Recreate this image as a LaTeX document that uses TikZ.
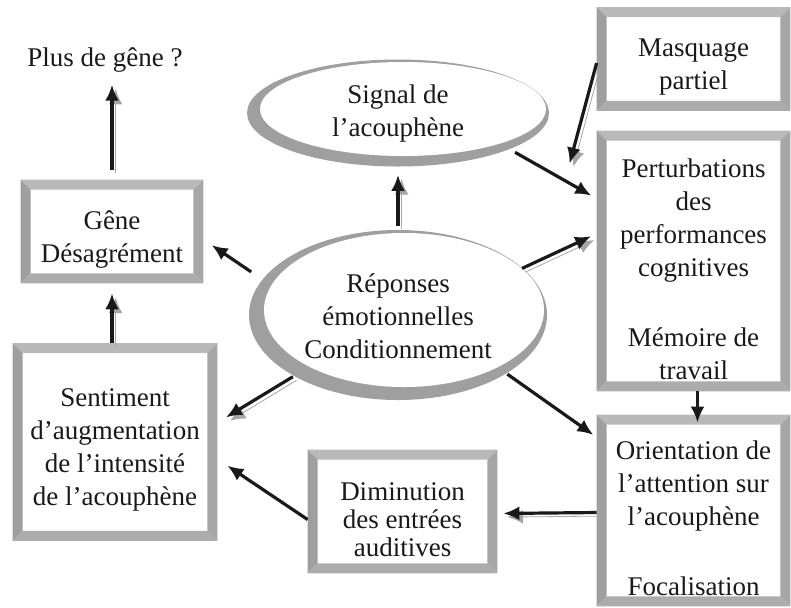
\documentclass[tikz,border=0pt]{standalone}
\usepackage{fontspec}
\setmainfont{Liberation Serif}
\usetikzlibrary{shapes.geometric,arrows.meta,backgrounds}

\begin{document}
\begin{tikzpicture}[x=0.5pt,y=-0.5pt,
    txt/.style={align=center, text=black!90, font=\fontsize{13.5}{16.5}\selectfont, inner sep=0pt},
    bevelbox/.style={txt, rectangle},
    oval/.style={txt, ellipse},
    tip/.style={-{Latex[length=8pt,width=7pt]}, line width=1.6pt, black!90},
    plainarrow/.style={tip},
    shadowarrow/.style={tip, preaction={draw=gray!70, transform canvas={shift={(1.8pt,-1.8pt)}}}}]

            \useasboundingbox (0,0) rectangle (791,607);

            \fill[gray!75] (398,113) ellipse (151 and 53.5);
            \fill[white] (403,109) ellipse (143 and 47);
            \fill[gray!75] (398,315) ellipse (149 and 85);
            \fill[white] (404,310) ellipse (140 and 77);

            \node[oval, minimum width=151pt, minimum height=53.5pt] (sig) at (398,113) {Signal de\\l’acouphène};
            \node[oval, minimum width=149pt, minimum height=85pt] (resp) at (398,316) {Réponses\\émotionnelles\\Conditionnement};

            \node[txt] (plus) at (105,60) {Plus de gêne ?};
            \node[bevelbox, minimum width=91pt, minimum height=51.5pt] (gene) at (112,239.5) {Gêne\\Désagrément};
            \node[bevelbox, minimum width=102pt, minimum height=98.5pt] (sent) at (115,450) {Sentiment\\d’augmentation\\de l’intensité\\de l’acouphène};
            \node[bevelbox, minimum width=96.5pt, minimum height=51.5pt] (masq) at (693.5,67) {Masquage\\partiel};
            \node[bevelbox, minimum width=96.5pt, minimum height=130pt] (pert) at (693.5,269) {Perturbations\\des\\performances\\cognitives\\[18.5pt]Mémoire de\\travail};
            \node[bevelbox, minimum width=96.5pt, minimum height=95.5pt] (orient) at (693.5,518.5) {Orientation de\\l’attention sur\\l’acouphène\\[18.5pt]Focalisation};
            \node[bevelbox, minimum width=94.5pt, minimum height=61.5pt, font=\fontsize{13.5}{14}\selectfont] (dimin) at (402.5,519.5) {Diminution\\des entrées\\auditives};

            \begin{scope}[on background layer]
            \foreach \b in {gene,sent,masq,pert,orient,dimin}{
                \coordinate (nw) at ([yshift=4pt]\b.north west);
                \coordinate (ne) at ([yshift=4pt]\b.north east);
                \coordinate (se) at ([yshift=4pt]\b.south east);
                \coordinate (sw) at ([yshift=4pt]\b.south west);
                \fill[gray!55] (nw) -- (ne) -- ([shift={(-10,10)}]ne) -- ([shift={(10,10)}]nw) -- cycle;
                \fill[gray!75] (nw) -- (sw) -- ([shift={(10,-10)}]sw) -- ([shift={(10,10)}]nw) -- cycle;
                \fill[gray!70] (ne) -- (se) -- ([shift={(-10,-10)}]se) -- ([shift={(-10,10)}]ne) -- cycle;
                \fill[gray!65] (sw) -- (se) -- ([shift={(-10,-10)}]se) -- ([shift={(10,-10)}]sw) -- cycle;
            }
            \end{scope}

            \draw[shadowarrow, shorten <=9pt, shorten >=6pt] (gene.north) -- (gene.north |- plus.south);
            \draw[shadowarrow, shorten <=4pt, shorten >=1pt] (gene.south |- sent.north) -- (gene.south);
            \draw[plainarrow, shorten <=7pt, shorten >=5pt] (resp.165) -- (gene.east);
            \draw[shadowarrow, shorten >=5pt] (resp.210) -- (sent.15);
            \draw[plainarrow, shorten >=6pt] (dimin.west) -- (sent.-5);

            \draw[shadowarrow, shorten <=2.5pt, shorten >=4pt] (resp.north) -- (sig.south);
            \draw[plainarrow, shorten <=3pt, shorten >=3pt] (sig.-18) -- (pert.144);
            \draw[shadowarrow, shorten >=3pt] (resp.21) -- (pert.160);
            \draw[plainarrow, shorten >=2pt] (resp.-28) -- (orient.140);

            \coordinate (masqtip) at ([shift={(-27,25)}]pert.north west);
            \draw[shadowarrow] ([yshift=2pt]masq.west) -- (masqtip);
            \draw[plainarrow, shorten <=-4pt] ([xshift=2pt]pert.south) -- ([xshift=2pt]orient.north);
            \draw[shadowarrow, shorten >=3pt] ([yshift=3pt]orient.west) -- ([yshift=3pt]dimin.east);

\end{tikzpicture}
\end{document}
